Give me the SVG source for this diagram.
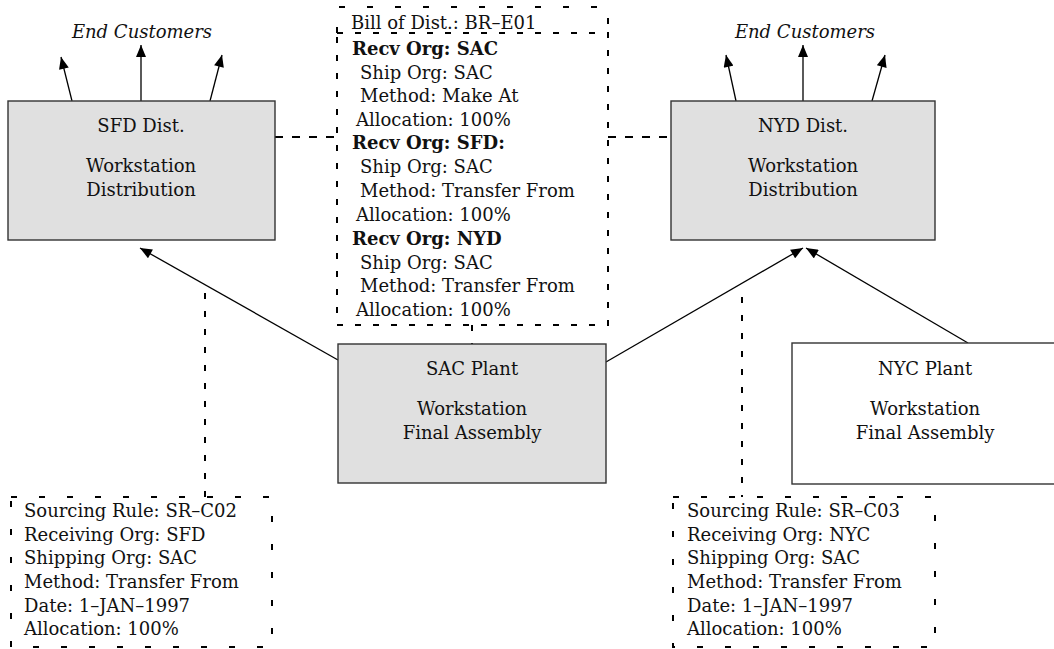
<svg xmlns="http://www.w3.org/2000/svg" width="1054" height="649" viewBox="0 0 1054 649">
<defs>
<marker id="ah" viewBox="0 0 12 10" refX="12" refY="5" markerWidth="13" markerHeight="10" markerUnits="userSpaceOnUse" orient="auto">
<path d="M0,0 L12,5 L0,10 Z" fill="#000"/>
</marker>
<style>
text{font-family:"DejaVu Serif","Liberation Serif",serif;font-size:18px;fill:#111}
.c{text-anchor:middle}
.it{font-style:italic}
.b{font-weight:bold}
.node{fill:#e0e0e0;stroke:#333;stroke-width:1.4}
.wnode{fill:#fff;stroke:#333;stroke-width:1.4}
.arr{stroke:#000;stroke-width:1.3;fill:none;marker-end:url(#ah)}
.dash{stroke:#000;stroke-width:2;fill:none;stroke-dasharray:6 12}
.dashw{stroke:#000;stroke-width:2;fill:none;stroke-dasharray:6 22}
</style>
</defs>
<rect width="1054" height="649" fill="#fff"/>

<g id="connectors">
<line class="arr" x1="72" y1="101" x2="61" y2="57"/>
<line class="arr" x1="141" y1="101" x2="141" y2="45"/>
<line class="arr" x1="210" y1="101" x2="222" y2="55"/>
<line class="arr" x1="736" y1="101" x2="726" y2="55"/>
<line class="arr" x1="803" y1="101" x2="803" y2="45"/>
<line class="arr" x1="872" y1="101" x2="885" y2="55"/>
<line class="arr" x1="338" y1="360" x2="140" y2="248"/>
<line class="arr" x1="606" y1="362" x2="803" y2="248"/>
<line class="arr" x1="968" y1="343" x2="806" y2="248"/>
<line class="dash" x1="275" y1="137" x2="337" y2="137" style="stroke-dasharray:8 9"/>
<line class="dash" x1="608" y1="137" x2="671" y2="137" style="stroke-dasharray:8 9"/>
<line class="dash" x1="472" y1="325" x2="472" y2="344"/>
<line class="dash" x1="205" y1="293" x2="205" y2="497"/>
<line class="dash" x1="742" y1="297" x2="742" y2="497"/>
</g>

<g id="sfd">
<rect class="node" x="8" y="101" width="267" height="139"/>
<text class="c" x="141" y="132">SFD Dist.</text>
<text class="c" x="141" y="172">Workstation</text>
<text class="c" x="141" y="196">Distribution</text>
</g>
<g id="sfd-customers">
<text class="c it" x="142" y="38">End Customers</text>
</g>

<g id="nyd">
<rect class="node" x="671" y="101" width="264" height="139"/>
<text class="c" x="803" y="132">NYD Dist.</text>
<text class="c" x="803" y="172">Workstation</text>
<text class="c" x="803" y="196">Distribution</text>
</g>
<g id="nyd-customers">
<text class="c it" x="805" y="38">End Customers</text>
</g>

<g id="bill">
<path class="dashw" d="M337,33 V7 H608 V33"/>
<rect class="dash" x="337" y="33" width="271" height="292"/>
<text x="351" y="29">Bill of Dist.: BR–E01</text>
<text class="b" x="352" y="55">Recv Org: SAC</text>
<text x="360" y="78.5">Ship Org: SAC</text>
<text x="360" y="102">Method: Make At</text>
<text x="356" y="125.5">Allocation: 100%</text>
<text class="b" x="352" y="149">Recv Org: SFD:</text>
<text x="360" y="173">Ship Org: SAC</text>
<text x="360" y="197">Method: Transfer From</text>
<text x="356" y="221">Allocation: 100%</text>
<text class="b" x="352" y="245">Recv Org: NYD</text>
<text x="360" y="269">Ship Org: SAC</text>
<text x="360" y="292">Method: Transfer From</text>
<text x="356" y="316">Allocation: 100%</text>
</g>

<g id="sac">
<rect class="node" x="338" y="344" width="268" height="139"/>
<text class="c" x="472" y="375">SAC Plant</text>
<text class="c" x="472" y="415">Workstation</text>
<text class="c" x="472" y="439">Final Assembly</text>
</g>

<g id="nyc">
<rect class="wnode" x="792" y="343" width="270" height="141"/>
<text class="c" x="925" y="375">NYC Plant</text>
<text class="c" x="925" y="415">Workstation</text>
<text class="c" x="925" y="439">Final Assembly</text>
</g>

<g id="sr-c02">
<rect class="dashw" x="11" y="497" width="261" height="150"/>
<text x="24" y="517">Sourcing Rule: SR–C02</text>
<text x="24" y="540.5">Receiving Org: SFD</text>
<text x="24" y="564">Shipping Org: SAC</text>
<text x="24" y="588">Method: Transfer From</text>
<text x="24" y="611.5">Date: 1–JAN–1997</text>
<text x="24" y="635">Allocation: 100%</text>
</g>

<g id="sr-c03">
<rect class="dashw" x="673" y="497" width="262" height="150"/>
<text x="687" y="517">Sourcing Rule: SR–C03</text>
<text x="687" y="540.5">Receiving Org: NYC</text>
<text x="687" y="564">Shipping Org: SAC</text>
<text x="687" y="588">Method: Transfer From</text>
<text x="687" y="611.5">Date: 1–JAN–1997</text>
<text x="687" y="635">Allocation: 100%</text>
</g>
</svg>
